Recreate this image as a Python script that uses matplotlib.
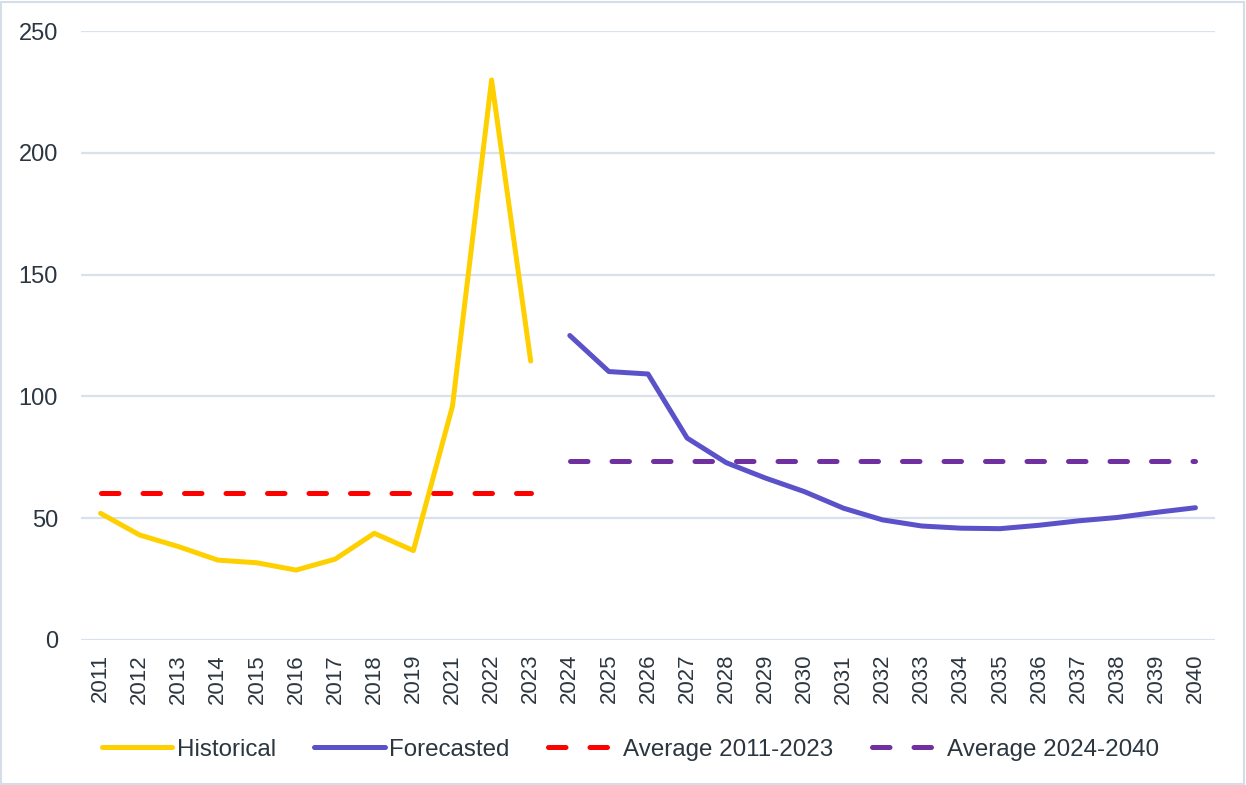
import numpy as np
import matplotlib.pyplot as plt
from matplotlib.patches import Rectangle

plt.rcParams['font.family'] = ['Liberation Sans', 'DejaVu Sans']

# Categorías (no hay 2020 en el eje)
years = ['2011', '2012', '2013', '2014', '2015', '2016', '2017', '2018', '2019',
         '2021', '2022', '2023', '2024', '2025', '2026', '2027', '2028', '2029',
         '2030', '2031', '2032', '2033', '2034', '2035', '2036', '2037', '2038',
         '2039', '2040']

historical = [52.0, 43.1, 38.3, 32.8, 31.7, 28.7, 33.2, 43.8, 36.7, 96.0, 229.9, 114.5]
forecasted = [125.0, 110.2, 109.2, 82.9, 72.8, 66.5, 60.9, 54.1, 49.3, 46.8, 45.9,
              45.7, 47.1, 48.9, 50.3, 52.4, 54.3]
avg_hist = 60.5
avg_fore = 73.5

text_col = '#2b3640'
grid_col = '#d9e2ec'

fig = plt.figure(figsize=(12.46, 7.85), dpi=100)
ax = fig.add_axes([81 / 1246, 1 - 640 / 785, (1215 - 81) / 1246, (640 - 31) / 785])

x = np.arange(len(years))
n_h = len(historical)
x_h = x[:n_h]
x_f = x[n_h:n_h + len(forecasted)]

ax.plot(x_h, historical, color='#FFD000', lw=3.6, solid_capstyle='round',
        solid_joinstyle='round', label='Historical', zorder=4)
ax.plot(x_f, forecasted, color='#5B52C9', lw=3.6, solid_capstyle='round',
        solid_joinstyle='round', label='Forecasted', zorder=4)
ax.plot(x_h, [avg_hist] * n_h, color='#FF0000', lw=3.6, dashes=(3.5, 4.8),
        dash_capstyle='round', label='Average 2011-2023', zorder=3)
ax.plot(x_f, [avg_fore] * len(x_f), color='#7030A0', lw=3.6, dashes=(3.5, 4.8),
        dash_capstyle='round', label='Average 2024-2040', zorder=3)

ax.set_xlim(-0.5, len(years) - 0.5)
ax.set_ylim(0, 250)
ax.set_yticks([0, 50, 100, 150, 200, 250])
ax.set_xticks(x)
ax.set_xticklabels(years, rotation=90)
ax.tick_params(axis='both', length=0, colors=text_col)
ax.tick_params(axis='y', pad=16.5, labelsize=17)
ax.tick_params(axis='x', pad=10, labelsize=16)
for s in ax.spines.values():
    s.set_visible(False)
ax.grid(axis='y', color=grid_col, lw=1.6, zorder=0)
ax.set_axisbelow(True)

leg = fig.legend(loc='lower left', bbox_to_anchor=(80 / 1246, 0.003), ncol=4,
                 frameon=False, fontsize=17.4, handlelength=2.9, handletextpad=0.2,
                 columnspacing=1.6, labelcolor=text_col)

# Borde exterior
fig.patches.append(Rectangle((0.001, 0.001), 0.997, 0.997, transform=fig.transFigure,
                             fill=False, edgecolor='#d5dee8', lw=1.5))

fig.savefig('out.png', dpi=100)
